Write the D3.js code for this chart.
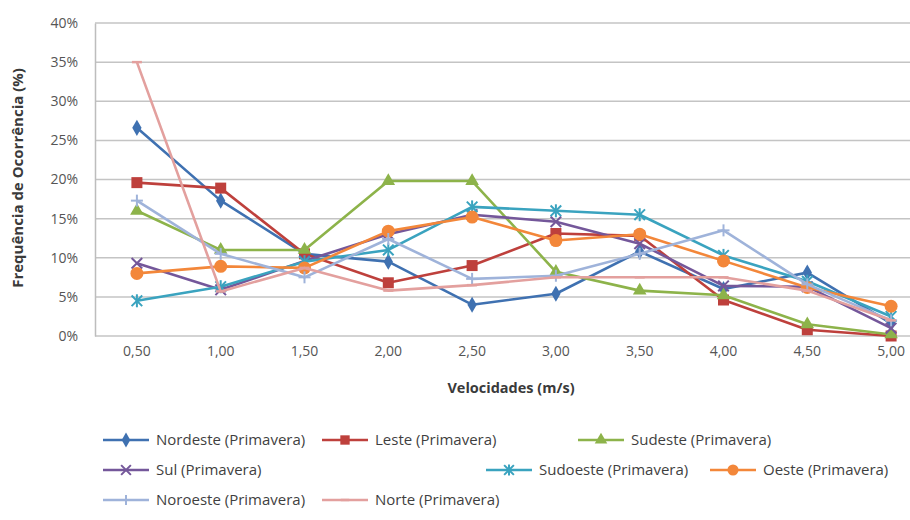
<!DOCTYPE html>
<html>
<head>
    <meta charset="UTF-8">
    <style>
        body { margin: 0; background: #fff; }
        svg { font-family: "Open Sans", Lato, sans-serif; }
    </style>
</head>
<body>
    <div id="chart"></div>
    <script src="https://d3js.org/d3.v7.min.js"></script>
    <script>
        // categories (wind speed, m/s)
        const speeds = ["0,50", "1,00", "1,50", "2,00", "2,50", "3,00", "3,50", "4,00", "4,50", "5,00"];
        const yTicks = [0, 5, 10, 15, 20, 25, 30, 35, 40];

        // series values (%)
        const nordeste = [26.6, 17.3, 10.5, 9.5, 4.0, 5.4, 10.8, 6.0, 8.1, 1.6];
        const leste    = [19.6, 18.9, 10.5, 6.8, 9.0, 13.1, 12.8, 4.6, 0.8, 0.0];
        const sudeste  = [16.0, 11.0, 11.0, 19.8, 19.8, 8.2, 5.8, 5.2, 1.5, 0.2];
        const sul      = [9.3, 5.9, 9.6, 13.0, 15.5, 14.6, 11.8, 6.4, 6.3, 1.0];
        const sudoeste = [4.5, 6.3, 9.5, 11.0, 16.5, 16.0, 15.5, 10.3, 7.0, 2.5];
        const oeste    = [8.0, 8.9, 8.7, 13.4, 15.2, 12.2, 13.0, 9.6, 6.2, 3.8];
        const noroeste = [17.3, 10.5, 7.5, 12.4, 7.3, 7.7, 10.5, 13.5, 6.6, 2.0];
        const norte    = [35.0, 5.7, 8.7, 5.8, 6.5, 7.5, 7.5, 7.5, 5.8, 2.0];

        const series = [
            { name: "Nordeste (Primavera)", values: nordeste, color: "#3F71B1", symbol: "diamond" },
            { name: "Leste (Primavera)", values: leste, color: "#BE403C", symbol: "square" },
            { name: "Sudeste (Primavera)", values: sudeste, color: "#8DB34A", symbol: "triangle" },
            { name: "Sul (Primavera)", values: sul, color: "#74579A", symbol: "x" },
            { name: "Sudoeste (Primavera)", values: sudoeste, color: "#3AA3BF", symbol: "star" },
            { name: "Oeste (Primavera)", values: oeste, color: "#F3873A", symbol: "circle" },
            { name: "Noroeste (Primavera)", values: noroeste, color: "#9FB3DA", symbol: "plus" },
            { name: "Norte (Primavera)", values: norte, color: "#E3A09E", symbol: "dash" }
        ];

        const W = 910, H = 520;
        const plot = { left: 95, top: 23, right: 933, bottom: 336 };

        const svg = d3.select("#chart").append("svg")
            .attr("width", W)
            .attr("height", H);

        const x = d3.scaleBand().domain(speeds).range([plot.left, plot.right]);
        const y = d3.scaleLinear().domain([0, 40]).range([plot.bottom, plot.top]);
        const cx = d => x(d) + x.bandwidth() / 2;

        // gridlines
        svg.append("g")
            .selectAll("line")
            .data(yTicks)
            .join("line")
            .attr("x1", plot.left).attr("x2", plot.right)
            .attr("y1", d => y(d)).attr("y2", d => y(d))
            .attr("stroke", "#c4c4c4")
            .attr("stroke-width", 1.5);

        // left axis
        const yAxis = svg.append("g")
            .attr("transform", `translate(${plot.left},0)`)
            .call(d3.axisLeft(y).tickValues(yTicks).tickSize(0).tickPadding(17).tickFormat(d => d + "%"));
        yAxis.select(".domain").attr("stroke", "#bdbdbd").attr("stroke-width", 1.5);
        yAxis.selectAll("text").attr("font-size", 14).attr("fill", "#555").attr("font-family", "Open Sans");

        // bottom axis
        const xAxis = svg.append("g")
            .attr("transform", `translate(0,${plot.bottom})`)
            .call(d3.axisBottom(x).tickSize(0).tickPadding(10));
        xAxis.select(".domain").remove();
        xAxis.selectAll("text").attr("font-size", 14).attr("fill", "#555").attr("font-family", "Open Sans");

        // axis titles
        svg.append("text")
            .attr("x", 511).attr("y", 393)
            .attr("text-anchor", "middle")
            .attr("font-size", 14.5).attr("font-weight", "bold").attr("fill", "#3a3a3a")
            .text("Velocidades (m/s)");
        svg.append("text")
            .attr("transform", "translate(23,178) rotate(-90)")
            .attr("text-anchor", "middle")
            .attr("font-size", 15).attr("font-weight", "bold").attr("fill", "#3a3a3a")
            .text("Frequência de Ocorrência (%)");

        // marker shapes
        function drawMarker(g, symbol, color, size) {
            const s = size || 1;
            if (symbol === "diamond") {
                g.append("path").attr("d", d3.symbol(d3.symbolDiamond, 75 * s)()).attr("fill", color);
            } else if (symbol === "square") {
                g.append("rect").attr("x", -5.5 * s).attr("y", -5.5 * s).attr("width", 11 * s).attr("height", 11 * s).attr("fill", color);
            } else if (symbol === "triangle") {
                g.append("path").attr("d", d3.symbol(d3.symbolTriangle, 80 * s)()).attr("fill", color);
            } else if (symbol === "circle") {
                g.append("circle").attr("r", 6.5 * s).attr("fill", color);
            } else if (symbol === "x") {
                g.append("path").attr("d", d3.symbol(d3.symbolTimes, 75 * s)()).attr("fill", "none").attr("stroke", color).attr("stroke-width", 2);
            } else if (symbol === "star") {
                g.append("path").attr("d", d3.symbol(d3.symbolTimes, 75 * s)()).attr("fill", "none").attr("stroke", color).attr("stroke-width", 2);
                g.append("line").attr("x1", 0).attr("x2", 0).attr("y1", -6.5 * s).attr("y2", 6.5 * s).attr("stroke", color).attr("stroke-width", 2);
            } else if (symbol === "plus") {
                g.append("line").attr("x1", -6 * s).attr("x2", 6 * s).attr("y1", 0).attr("y2", 0).attr("stroke", color).attr("stroke-width", 2);
                g.append("line").attr("x1", 0).attr("x2", 0).attr("y1", -6 * s).attr("y2", 6 * s).attr("stroke", color).attr("stroke-width", 2);
            } else if (symbol === "dash") {
                g.append("line").attr("x1", -5 * s).attr("x2", 5 * s).attr("y1", 0).attr("y2", 0).attr("stroke", color).attr("stroke-width", 2.5);
            }
        }

        const line = d3.line()
            .x((d, i) => cx(speeds[i]))
            .y(d => y(d));

        const seriesG = svg.append("g").selectAll("g")
            .data(series)
            .join("g");

        seriesG.append("path")
            .attr("d", d => line(d.values))
            .attr("fill", "none")
            .attr("stroke", d => d.color)
            .attr("stroke-width", 2.6)
            .attr("stroke-linejoin", "round");

        seriesG.each(function (s) {
            const g = d3.select(this);
            s.values.forEach((v, i) => {
                const m = g.append("g").attr("transform", `translate(${cx(speeds[i])},${y(v)})`);
                drawMarker(m, s.symbol, s.color);
            });
        });

        // legend
        const legendPos = [
            [103, 440], [322, 440], [578, 440],
            [103, 470], [486, 470], [710, 470],
            [103, 500], [322, 500]
        ];
        const legend = svg.append("g").selectAll("g")
            .data(series)
            .join("g")
            .attr("transform", (d, i) => `translate(${legendPos[i][0]},${legendPos[i][1]})`);
        legend.append("line")
            .attr("x1", 0).attr("x2", 46)
            .attr("stroke", d => d.color)
            .attr("stroke-width", 2.6);
        legend.each(function (s) {
            const m = d3.select(this).append("g").attr("transform", "translate(23,0)");
            drawMarker(m, s.symbol, s.color, 0.85);
        });
        legend.append("text")
            .attr("x", 53).attr("dy", "0.35em")
            .attr("font-size", 15).attr("fill", "#3f3f3f")
            .text(d => d.name);
    </script>
</body>
</html>
